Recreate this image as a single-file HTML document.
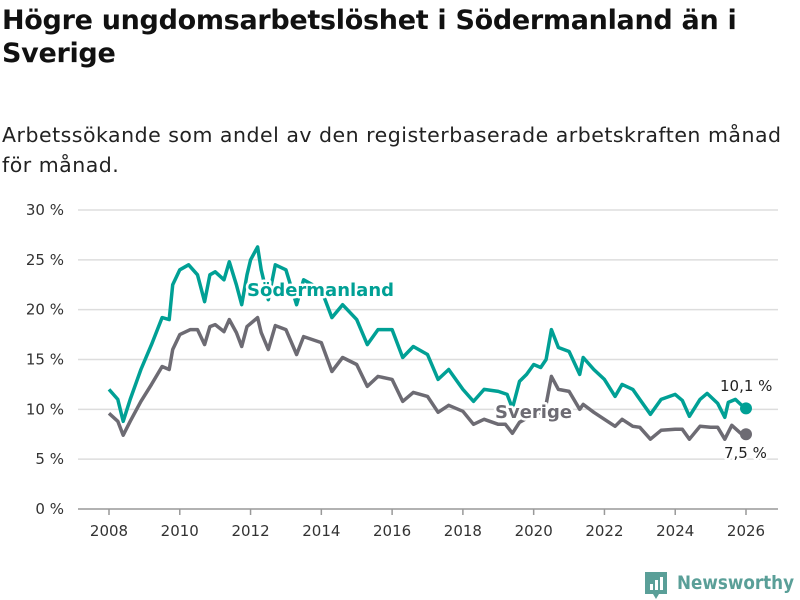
<!DOCTYPE html>
<html><head><meta charset="utf-8"><style>
body{margin:0;background:#fff;font-family:"Liberation Sans","DejaVu Sans",sans-serif;}
#wrap{position:relative;width:800px;height:600px;overflow:hidden;}
h1{position:absolute;left:2px;top:4px;margin:0;font-size:27px;line-height:33px;font-weight:bold;color:#111;width:790px;font-family:"DejaVu Sans","Liberation Sans",sans-serif;letter-spacing:-0.3px}
.sub{position:absolute;left:2px;top:120px;font-size:20.5px;line-height:30px;color:#222;width:798px;white-space:nowrap;font-family:"DejaVu Sans","Liberation Sans",sans-serif;letter-spacing:0.5px}
</style></head><body>
<div id="wrap">
<h1>Högre ungdomsarbetslöshet i Södermanland än i Sverige</h1>
<div class="sub">Arbetssökande som andel av den registerbaserade arbetskraften månad<br>för månad.</div>
<svg id="chart" width="800" height="600" style="position:absolute;left:0;top:0"></svg>
</div>
<script>
const yTicks=[0,5,10,15,20,25,30];
const yTickLabels=["0 %","5 %","10 %","15 %","20 %","25 %","30 %"];
const xTicks=[2008,2010,2012,2014,2016,2018,2020,2022,2024,2026];
const sodDates=[2008.0,2008.25,2008.4,2008.6,2008.9,2009.2,2009.5,2009.7,2009.8,2010.0,2010.25,2010.5,2010.7,2010.85,2011.0,2011.25,2011.4,2011.6,2011.75,2011.9,2012.0,2012.2,2012.3,2012.5,2012.7,2013.0,2013.3,2013.5,2014.0,2014.3,2014.6,2015.0,2015.3,2015.6,2016.0,2016.3,2016.6,2017.0,2017.3,2017.6,2018.0,2018.3,2018.6,2019.0,2019.25,2019.4,2019.6,2019.8,2020.0,2020.2,2020.35,2020.5,2020.7,2021.0,2021.3,2021.4,2021.7,2022.0,2022.3,2022.5,2022.8,2023.0,2023.3,2023.6,2024.0,2024.2,2024.4,2024.7,2024.9,2025.2,2025.4,2025.5,2025.7,2025.85,2026.0];
const sodValues=[12,11,8.8,11,14,16.5,19.2,19,22.5,24,24.5,23.5,20.8,23.5,23.8,23,24.8,22.5,20.5,23.5,25,26.3,24,21,24.5,24,20.5,23,22,19.2,20.5,19,16.5,18,18,15.2,16.3,15.5,13,14,12,10.8,12,11.8,11.5,10.1,12.8,13.5,14.5,14.2,15,18,16.2,15.8,13.5,15.2,14,13,11.3,12.5,12,11,9.5,11,11.5,10.9,9.3,11,11.6,10.6,9.2,10.7,11,10.5,10.1];
const sweDates=[2008.0,2008.25,2008.4,2008.6,2008.9,2009.2,2009.5,2009.7,2009.8,2010.0,2010.3,2010.5,2010.7,2010.85,2011.0,2011.25,2011.4,2011.6,2011.75,2011.9,2012.2,2012.3,2012.5,2012.7,2013.0,2013.3,2013.5,2014.0,2014.3,2014.6,2015.0,2015.3,2015.6,2016.0,2016.3,2016.6,2017.0,2017.3,2017.6,2018.0,2018.3,2018.6,2019.0,2019.2,2019.4,2019.6,2020.0,2020.2,2020.35,2020.5,2020.7,2021.0,2021.3,2021.4,2021.7,2022.0,2022.3,2022.5,2022.8,2023.0,2023.3,2023.6,2024.0,2024.2,2024.4,2024.7,2025.0,2025.2,2025.4,2025.6,2025.85,2026.0];
const sweValues=[9.6,8.8,7.4,8.8,10.8,12.5,14.3,14,16,17.5,18,18,16.5,18.3,18.5,17.8,19,17.7,16.3,18.3,19.2,17.7,16,18.4,18,15.5,17.3,16.7,13.8,15.2,14.5,12.3,13.3,13,10.8,11.7,11.3,9.7,10.4,9.8,8.5,9,8.5,8.5,7.6,8.7,9.5,9.7,10.5,13.3,12,11.8,10,10.5,9.7,9,8.3,9,8.3,8.2,7,7.9,8,8,7,8.3,8.2,8.2,7,8.4,7.6,7.5];

const NS="http://www.w3.org/2000/svg";
const svg=document.getElementById('chart');
const x=v=>109+(v-2008)*(746-109)/18;
const y=v=>509-v*(509-210)/30;
function mk(t,a,p){const e=document.createElementNS(NS,t);for(const k in a)e.setAttribute(k,a[k]);(p||svg).appendChild(e);return e;}
yTicks.forEach((t,i)=>{
  const g=mk('line',{x1:78,x2:778,y1:y(t),y2:y(t),stroke:t===0?'#999':'#ddd','stroke-width':1.5});
  
  
  const l=mk('text',{x:64,y:y(t)+5,'text-anchor':'end','font-size':15,fill:'#333','font-family':'DejaVu Sans, Liberation Sans, sans-serif'});
  l.textContent=yTickLabels[i];
  
  
});
xTicks.forEach(t=>{
  const tk=mk('line',{x1:x(t),x2:x(t),y1:509,y2:515,stroke:'#999','stroke-width':1.5});
  
  
  const l=mk('text',{x:x(t),y:536,'text-anchor':'middle','font-size':15,fill:'#333','font-family':'DejaVu Sans, Liberation Sans, sans-serif'});
  l.textContent=t;
  
  
});
function line(d,v,c,name){
  const p=mk('path',{d:d.map((t,i)=>(i?'L':'M')+x(t).toFixed(1)+','+y(v[i]).toFixed(1)).join(''),fill:'none',stroke:c,'stroke-width':3.5,'stroke-linejoin':'round'});
  
  
  const c2=mk('circle',{cx:x(d[d.length-1]),cy:y(v[v.length-1]),r:6,fill:c});
  
  
}
line(sweDates,sweValues,'#6d6b73','sverige-line');
line(sodDates,sodValues,'#00a095','sodermanland-line');
function lab(tx,xx,yy,c,fs,w,name){
  const t=mk('text',{x:xx,y:yy,'font-size':fs,'font-weight':w,fill:c,stroke:'#fff','stroke-width':5,'paint-order':'stroke','stroke-linejoin':'round','font-family':'DejaVu Sans, Liberation Sans, sans-serif'});
  t.textContent=tx;
  
  
}
lab('Södermanland',247,296,'#00a095',18,'bold','sodermanland-label');
lab('Sverige',495,418,'#6d6b73',18,'bold','sverige-label');
lab('10,1 %',720,391,'#222',15,'normal','sodermanland-end-value');
lab('7,5 %',724,458,'#222',15,'normal','sverige-end-value');
const lg=mk('g',{});


mk('path',{d:'M645,572 h22 v22 h-8 l-3,5 l-3,-5 h-8 z',fill:'#5a9f98'},lg);
mk('rect',{x:650,y:584,width:3,height:6,fill:'#fff'},lg);
mk('rect',{x:655,y:580,width:3,height:10,fill:'#fff'},lg);
mk('rect',{x:660,y:577,width:3,height:13,fill:'#fff'},lg);
const lt=mk('text',{x:677,y:589,'font-size':19,'font-weight':'bold',fill:'#5a9f98','font-family':'DejaVu Sans, Liberation Sans, sans-serif',textLength:117,lengthAdjust:'spacingAndGlyphs'},lg);
lt.textContent='Newsworthy';
</script>
</body></html>
